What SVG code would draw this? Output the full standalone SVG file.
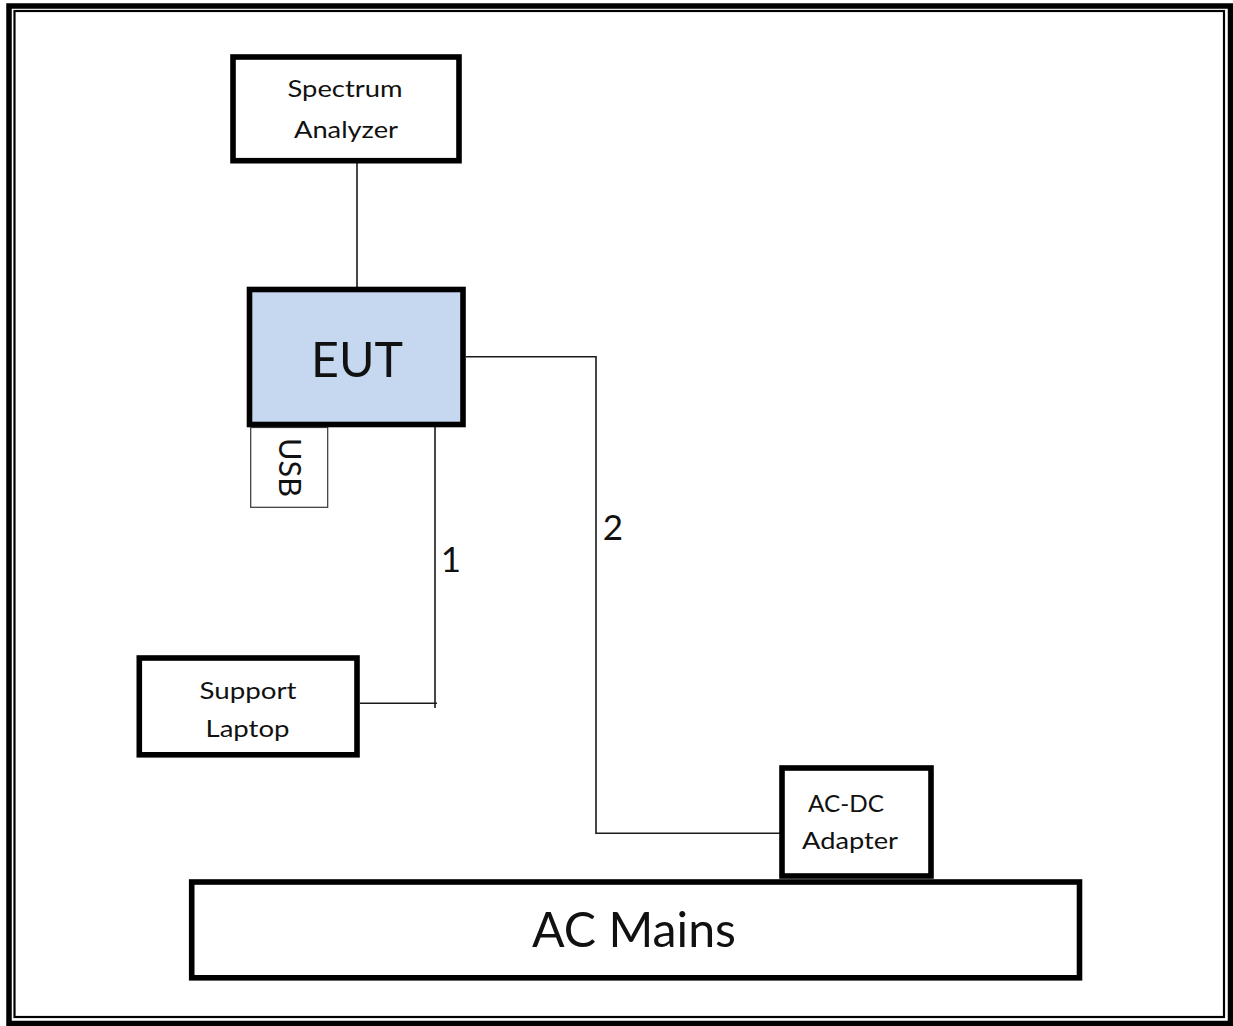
<svg xmlns="http://www.w3.org/2000/svg" width="1233" height="1026" viewBox="0 0 1233 1026">
  <style>
    .box { fill: #ffffff; stroke: #000000; stroke-width: 5.6; }
    .eut { fill: #C6D8EF; stroke: #000000; stroke-width: 5.6; }
    .thinbox { fill: #ffffff; stroke: #333333; stroke-width: 1.2; }
    .wire { fill: none; stroke: #1a1a1a; stroke-width: 1.6; }
    .lbl { font-family: Lato, "Open Sans", "Liberation Sans", sans-serif; fill: #111111; text-anchor: middle; }
    .num { font-family: Lato, "Open Sans", "Liberation Sans", sans-serif; fill: #111111; text-anchor: middle; font-size: 35px; }
  </style>
  <rect width="1233" height="1026" fill="#ffffff"/>
  <g id="frame">
    <rect x="9" y="6" width="1221.5" height="1017.5" fill="none" stroke="#000" stroke-width="5.5"/>
    <rect x="14.5" y="11" width="1209.5" height="1006" fill="none" stroke="#000" stroke-width="2.2"/>
  </g>
  <g id="connectors">
    <line class="wire" x1="357" y1="160" x2="357" y2="290"/>
    <polyline class="wire" points="435,427 435,708"/>
    <polyline class="wire" points="360,703.3 437,703.3"/>
    <polyline class="wire" points="466,356.7 596,356.7 596,833.3 782,833.3"/>
    <text class="num" x="451" y="572">1</text>
    <text class="num" x="613" y="540">2</text>
  </g>
  <g id="spectrum-analyzer">
    <rect class="box" x="233" y="57" width="226" height="103.7"/>
    <text class="lbl" x="345" y="97" font-size="24" textLength="115" lengthAdjust="spacingAndGlyphs">Spectrum</text>
    <text class="lbl" x="346" y="138" font-size="24" textLength="104" lengthAdjust="spacingAndGlyphs">Analyzer</text>
  </g>
  <g id="eut">
    <rect class="eut" x="249.5" y="289.5" width="213.5" height="135"/>
    <text class="lbl" x="357" y="377" font-size="49" textLength="92" lengthAdjust="spacingAndGlyphs">EUT</text>
  </g>
  <g id="usb">
    <rect class="thinbox" x="250.7" y="427.5" width="77" height="79.8"/>
    <text class="lbl" transform="translate(279,467.5) rotate(90)" font-size="30" textLength="59" lengthAdjust="spacingAndGlyphs">USB</text>
  </g>
  <g id="support-laptop">
    <rect class="box" x="139.3" y="658" width="217.7" height="96.8"/>
    <text class="lbl" x="248" y="698.5" font-size="23" textLength="97" lengthAdjust="spacingAndGlyphs">Support</text>
    <text class="lbl" x="247.5" y="737" font-size="23" textLength="84" lengthAdjust="spacingAndGlyphs">Laptop</text>
  </g>
  <g id="ac-dc-adapter">
    <rect class="box" x="782" y="768" width="149" height="108"/>
    <text class="lbl" x="846" y="812" font-size="24" textLength="76" lengthAdjust="spacingAndGlyphs">AC-DC</text>
    <text class="lbl" x="850" y="849" font-size="23" textLength="96" lengthAdjust="spacingAndGlyphs">Adapter</text>
  </g>
  <g id="ac-mains">
    <rect class="box" x="191.7" y="882" width="887.8" height="95.8"/>
    <text class="lbl" x="634" y="947.3" font-size="48" textLength="204" lengthAdjust="spacingAndGlyphs">AC Mains</text>
  </g>
</svg>
